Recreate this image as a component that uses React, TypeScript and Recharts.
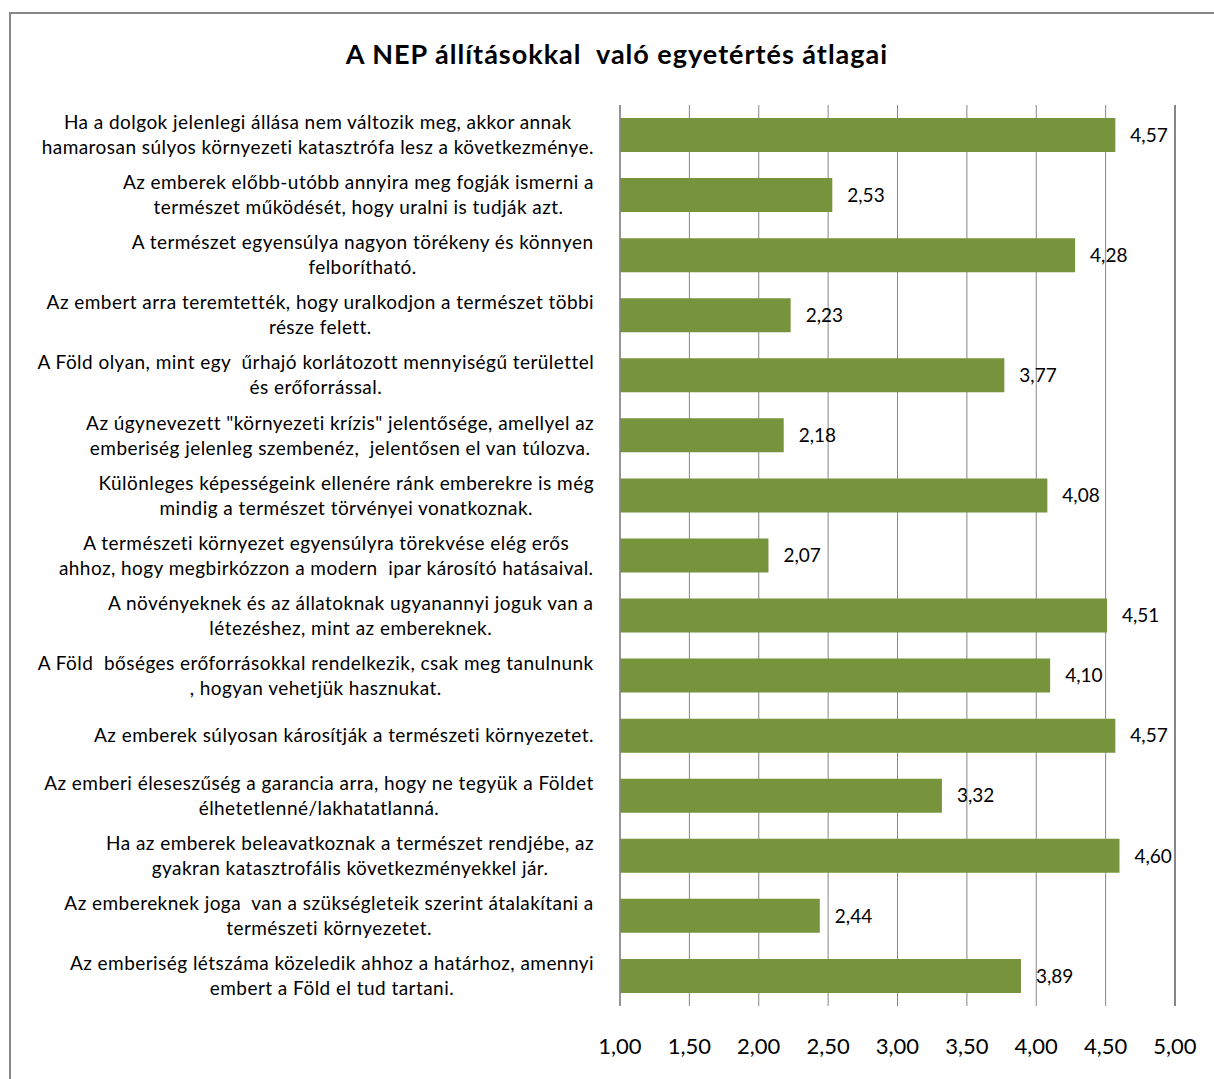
import { BarChart, Bar, XAxis, YAxis, CartesianGrid, LabelList, ReferenceLine } from 'recharts';

const statements = [
  'Ha a dolgok jelenlegi állása nem változik meg, akkor annak\nhamarosan súlyos környezeti katasztrófa lesz a következménye.',
  'Az emberek előbb-utóbb annyira meg fogják ismerni a\ntermészet működését, hogy uralni is tudják azt.',
  'A természet egyensúlya nagyon törékeny és könnyen\nfelborítható.',
  'Az embert arra teremtették, hogy uralkodjon a természet többi\nrésze felett.',
  'A Föld olyan, mint egy  űrhajó korlátozott mennyiségű területtel\nés erőforrással.',
  'Az úgynevezett "környezeti krízis" jelentősége, amellyel az\nemberiség jelenleg szembenéz,  jelentősen el van túlozva.',
  'Különleges képességeink ellenére ránk emberekre is még\nmindig a természet törvényei vonatkoznak.',
  'A természeti környezet egyensúlyra törekvése elég erős\nahhoz, hogy megbirkózzon a modern  ipar károsító hatásaival.',
  'A növényeknek és az állatoknak ugyanannyi joguk van a\nlétezéshez, mint az embereknek.',
  'A Föld  bőséges erőforrásokkal rendelkezik, csak meg tanulnunk\n, hogyan vehetjük hasznukat.',
  'Az emberek súlyosan károsítják a természeti környezetet.',
  'Az emberi éleseszűség a garancia arra, hogy ne tegyük a Földet\nélhetetlenné/lakhatatlanná.',
  'Ha az emberek beleavatkoznak a természet rendjébe, az\ngyakran katasztrofális következményekkel jár.',
  'Az embereknek joga  van a szükségleteik szerint átalakítani a\ntermészeti környezetet.',
  'Az emberiség létszáma közeledik ahhoz a határhoz, amennyi\nembert a Föld el tud tartani.',
];

const means = [4.57, 2.53, 4.28, 2.23, 3.77, 2.18, 4.08, 2.07, 4.51, 4.1, 4.57, 3.32, 4.6, 2.44, 3.89];

const xTicks = [1, 1.5, 2, 2.5, 3, 3.5, 4, 4.5, 5];

const data = statements.map((s, i) => ({ name: s, value: means[i] }));

const FONT = 'Lato, "Open Sans", sans-serif';
const fmt = (v: number) => v.toFixed(2).replace('.', ',');

const LABEL_SIZE = 19;
const LABEL_SPACING = 0.45;

let ctx: CanvasRenderingContext2D | null = null;
function textWidth(s: string, size: number) {
  if (!ctx) ctx = document.createElement('canvas').getContext('2d');
  if (!ctx) return s.length * size * 0.5;
  ctx.font = `${size}px ${FONT}`;
  return ctx.measureText(s).width + s.length * LABEL_SPACING;
}

function CategoryTick({ x, y, payload }: any) {
  const lines = String(payload.value).split('\n');
  const block = Math.max(...lines.map((l) => textWidth(l, LABEL_SIZE)));
  const cx = x - 18 - block / 2;
  const lh = 25;
  const y0 = y - ((lines.length - 1) * lh) / 2;
  return (
    <text
      textAnchor="middle"
      fontSize={LABEL_SIZE}
      fontFamily={FONT}
      fill="#000"
      style={{ whiteSpace: 'pre', letterSpacing: LABEL_SPACING }}
    >
      {lines.map((l, i) => (
        <tspan key={i} x={cx} y={y0 + i * lh} dy="0.35em">
          {l}
        </tspan>
      ))}
    </text>
  );
}

function ValueTick({ x, y, payload }: any) {
  return (
    <text x={x} y={y + 32} dy="0.35em" textAnchor="middle" fontSize={22} fontFamily={FONT} fill="#000">
      {fmt(payload.value)}
    </text>
  );
}

export default function App() {
  return (
    <div style={{ position: 'fixed', left: 0, top: 0, width: 1214, height: 1079, overflow: 'hidden', background: '#fff' }}>
      <div
        style={{
          position: 'absolute',
          left: 9,
          top: 12,
          width: 1240,
          height: 1100,
          border: '2px solid #868686',
        }}
      />
      <div
        style={{
          position: 'absolute',
          left: 0,
          top: 37,
          width: 1234,
          textAlign: 'center',
          fontFamily: FONT,
          fontWeight: 'bold',
          fontSize: 27,
          letterSpacing: 1,
          whiteSpace: 'pre',
          color: '#000',
        }}
      >
        A NEP állításokkal  való egyetértés átlagai
      </div>
      <div style={{ position: 'absolute', left: 0, top: 0 }}>
        <BarChart
          width={1214}
          height={1079}
          data={data}
          layout="vertical"
          margin={{ top: 105, right: 39, bottom: 13, left: 20 }}
          barSize={34}
        >
          <CartesianGrid horizontal={false} vertical stroke="#868686" strokeWidth={1} />
          <XAxis
            type="number"
            domain={[1, 5]}
            ticks={xTicks}
            axisLine={false}
            tickLine={false}
            height={60}
            tick={<ValueTick />}
            interval={0}
          />
          <YAxis
            type="category"
            dataKey="name"
            width={600}
            axisLine={{ stroke: '#868686', strokeWidth: 1.5 }}
            tickLine={false}
            tick={<CategoryTick />}
            interval={0}
          />
          <ReferenceLine x={xTicks[xTicks.length - 1]} stroke="#868686" strokeWidth={2} />
          <Bar dataKey="value" fill="#77933C" isAnimationActive={false}>
            <LabelList
              dataKey="value"
              position="right"
              offset={15}
              formatter={(v: any) => fmt(Number(v))}
              fill="#000"
              fontSize={19}
              fontFamily={FONT}
            />
          </Bar>
        </BarChart>
      </div>
    </div>
  );
}
